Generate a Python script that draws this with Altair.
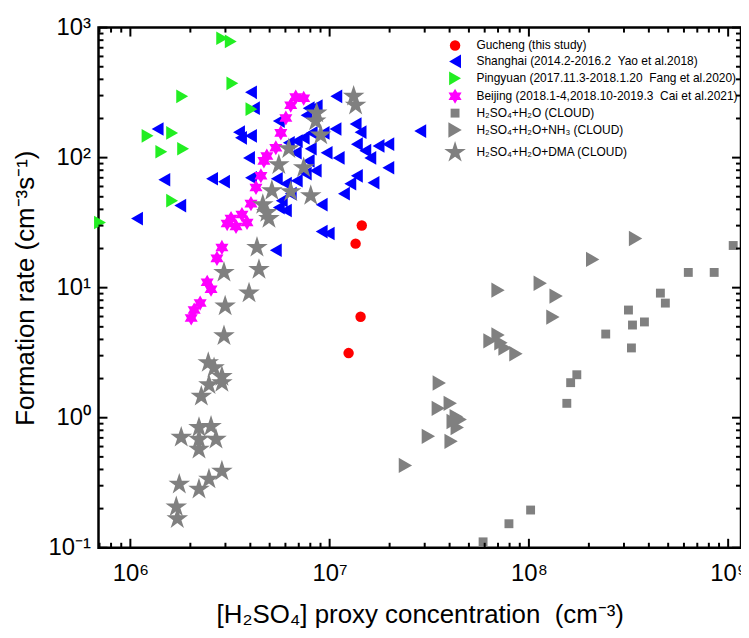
import altair as alt
import pandas as pd

# ---------------- data ----------------
gucheng_x = [1.45e7, 1.35e7, 1.43e7, 1.245e7]
gucheng_y = [30.1, 21.8, 5.98, 3.14]

shanghai_x = [1.08e6, 1.37e6, 1.48e6, 1.78e6, 2.57e6, 2.95e6, 3.51e6, 3.59e6, 4.03e6, 4.03e6,
              4.17e6, 3.94e6, 4.03e6, 5.56e6, 5.56e6, 6.03e6, 5.37e6, 6.03e6, 6.84e6, 7.59e6,
              6.84e6, 7.41e6, 8.61e6, 9.33e6, 1.07e7, 1.08e7, 1.35e7, 2.85e7, 9.66e6, 1.11e7,
              1.37e7, 1.51e7, 1.76e7, 1.97e7, 1.60e7, 1.97e7, 1.37e7, 1.27e7, 1.66e7, 1.18e7,
              9.12e6, 9.12e6, 9.89e6, 6.38e6, 6.76e6, 7.85e6, 8.51e6, 6.24e6, 8.04e6, 5.43e6,
              5.75e6, 7.85e6, 1.43e7, 7.66e6, 8.13e6]
shanghai_y = [34.0, 166, 67.6, 42.8, 68.8, 65.3, 157, 142, 147, 318,
              240, 99.5, 70.0, 191, 41.3, 39.2, 19.4, 63.0, 66.4, 75.2,
              134, 142, 249, 155, 166, 296, 181, 160, 109, 99.5,
              127, 113, 123, 127, 99.5, 83.6, 72.5, 63.0, 64.1, 52.8,
              43.5, 27.0, 26.1, 52.8, 109, 94.4, 79.3, 130, 117, 68.8,
              46.7, 240, 157, 212, 155]

pingyuan_x = [2.89e6, 3.19e6, 3.25e6, 1.82e6, 4.05e6, 1.22e6, 1.62e6, 1.43e6, 1.84e6, 1.62e6, 7.04e5]
pingyuan_y = [828, 782, 373, 296, 236, 147, 155, 111, 117, 46.7, 31.7]

beijing_x = [6.76e6, 7.41e6, 6.38e6, 6.03e6, 5.69e6, 5.37e6, 4.84e6, 4.68e6, 4.52e6, 4.27e6,
             4.03e6, 3.85e6, 3.39e6, 3.06e6, 2.88e6, 2.72e6, 2.43e6, 2.54e6, 2.24e6, 2.09e6,
             2.02e6, 3.20e6, 3.63e6]
beijing_y = [292, 286, 253, 202, 155, 119, 103, 94.4, 72.5, 59.0,
             44.3, 31.7, 29.5, 31.1, 20.4, 16.8, 11.0, 9.74, 7.61, 6.73,
             5.84, 34.0, 36.5]

h2o_x = [1.06e9, 6.31e8, 8.51e8, 4.57e8, 4.84e8, 3.16e8, 3.31e8, 3.80e8, 2.43e8, 3.27e8,
         1.74e8, 1.62e8, 1.55e8, 1.02e8, 7.94e7, 5.89e7]
h2o_y = [21.1, 13.1, 13.1, 9.08, 7.61, 6.73, 5.16, 5.45, 4.40, 3.44,
         2.14, 1.86, 1.29, 0.195, 0.153, 0.111]

nh3_x = [3.43e8, 2.09e8, 1.14e8, 7.00e7, 1.37e8, 1.32e8, 6.38e7, 7.00e7, 7.24e7, 7.59e7,
         8.61e7, 3.55e7, 4.03e7, 3.51e7, 4.32e7, 4.52e7, 4.17e7, 4.37e7, 3.13e7, 4.07e7,
         2.40e7]
nh3_y = [23.9, 16.5, 10.8, 9.57, 8.61, 5.94, 3.90, 4.33, 3.77, 3.44,
         3.10, 1.85, 1.29, 1.18, 1.02, 0.970, 0.935, 0.841, 0.719, 0.658,
         0.43]

dma_x = [1.32e7, 1.35e7, 8.61e6, 8.51e6, 9.02e6, 6.24e6, 5.56e6, 7.41e6, 5.13e6, 6.38e6,
         8.04e6, 4.62e6, 4.84e6, 4.96e6, 4.32e6, 4.42e6, 2.95e6, 3.94e6, 2.99e6, 2.95e6,
         2.46e6, 2.63e6, 2.88e6, 2.88e6, 2.48e6, 2.27e6, 2.54e6, 2.21e6, 1.80e6, 2.21e6,
         2.69e6, 2.21e6, 2.88e6, 2.48e6, 2.21e6, 1.76e6, 1.70e6, 1.72e6]
dma_y = [296, 253, 220, 191, 149, 117, 88.1, 83.6, 55.7, 54.7,
         51.0, 43.5, 37.8, 34.0, 20.4, 13.8, 13.1, 9.08, 7.22, 4.26,
         2.65, 2.42, 2.07, 1.86, 1.79, 1.46, 0.857, 0.841, 0.706, 0.682,
         0.682, 0.571, 0.388, 0.337, 0.282, 0.308, 0.206, 0.167]

NB = "\u00a0"
names = ["Gucheng (this study)",
         "Shanghai (2014.2-2016.2 " + NB + "Yao et al.2018)",
         "Pingyuan (2017.11.3-2018.1.20 " + NB + "Fang et al.2020)",
         "Beijing (2018.1-4,2018.10-2019.3 " + NB + "Cai et al.2021)",
         "H\u2082SO\u2084+H\u2082O (CLOUD)",
         "H\u2082SO\u2084+H\u2082O+NH\u2083 (CLOUD)",
         "H\u2082SO\u2084+H\u2082O+DMA (CLOUD)"]
colors = ["#FF0000", "#0000FF", "#22EE22", "#FF00FF", "#808080", "#808080", "#808080"]
hexagram = ("M0,-1L0.289,-0.5L0.866,-0.5L0.577,0L0.866,0.5L0.289,0.5L0,1L-0.289,0.5"
            "L-0.866,0.5L-0.577,0L-0.866,-0.5L-0.289,-0.5Z")
pentagram = ("M0,-1L0.225,-0.309L0.951,-0.309L0.363,0.118L0.588,0.809L0,0.382"
             "L-0.588,0.809L-0.363,0.118L-0.951,-0.309L-0.225,-0.309Z")
shapes = ["circle", "triangle-left", "triangle-right", hexagram, "square", "triangle-right", pentagram]
sizes = [110, 190, 190, 230, 80, 240, 520]

x_major = [1e6, 1e7, 1e8, 1e9]
x_minor = [7e5, 8e5, 9e5,
           2e6, 3e6, 4e6, 5e6, 6e6, 7e6, 8e6, 9e6,
           2e7, 3e7, 4e7, 5e7, 6e7, 7e7, 8e7, 9e7,
           2e8, 3e8, 4e8, 5e8, 6e8, 7e8, 8e8, 9e8]
y_major = [0.1, 1, 10, 100, 1000]
y_minor = [0.2, 0.3, 0.4, 0.5, 0.6, 0.7, 0.8, 0.9,
           2, 3, 4, 5, 6, 7, 8, 9,
           20, 30, 40, 50, 60, 70, 80, 90,
           200, 300, 400, 500, 600, 700, 800, 900]

# draw order: Shanghai, Pingyuan, Beijing, DMA, NH3, H2O, Gucheng
order = [(1, shanghai_x, shanghai_y), (2, pingyuan_x, pingyuan_y), (3, beijing_x, beijing_y),
         (6, dma_x, dma_y), (5, nh3_x, nh3_y), (4, h2o_x, h2o_y), (0, gucheng_x, gucheng_y)]
rows = []
for idx, xs, ys in order:
    for xv, yv in zip(xs, ys):
        rows.append({"x": xv, "y": yv, "series": names[idx]})
df = pd.DataFrame(rows)

W, H = 646, 523
FONT = "Liberation Sans"
xscale = alt.Scale(type="log", domain=[6.92e5, 1.16e9], nice=False)
yscale = alt.Scale(type="log", domain=[0.1, 1000], nice=False)

x_label_expr = ("datum.value < 5e6 ? '10\u2076' : datum.value < 5e7 ? '10\u2077' : "
                "datum.value < 5e8 ? '10\u2078' : '10\u2079'")
y_label_expr = ("datum.value < 0.5 ? '10\u207b\u00b9' : datum.value < 5 ? '10\u2070' : "
                "datum.value < 50 ? '10\u00b9' : datum.value < 500 ? '10\u00b2' : '10\u00b3'")

xaxis = alt.Axis(values=x_major, labelExpr=x_label_expr, ticks=False, domain=False,
                 grid=False, labelFont=FONT, labelFontSize=24, labelColor="black",
                 labelPadding=14,
                 title="[H\u2082SO\u2084] proxy concentration " + NB + "(cm\u207b\u00b3)",
                 titleFont=FONT, titleFontSize=26, titleFontWeight="normal",
                 titleColor="black", titlePadding=16)
yaxis = alt.Axis(values=y_major, labelExpr=y_label_expr, ticks=False, domain=False,
                 grid=False, labelFont=FONT, labelFontSize=24, labelColor="black",
                 labelPadding=8,
                 title="Formation rate (cm\u207b\u00b3s\u207b\u00b9)",
                 titleFont=FONT, titleFontSize=26, titleFontWeight="normal",
                 titleColor="black", titlePadding=10)

points = alt.Chart(df).mark_point(filled=True, opacity=1, strokeWidth=0).encode(
    x=alt.X("x:Q", scale=xscale, axis=xaxis),
    y=alt.Y("y:Q", scale=yscale, axis=yaxis),
    color=alt.Color("series:N", scale=alt.Scale(domain=names, range=colors),
                    legend=alt.Legend(orient="none", legendX=347, legendY=12, title=None,
                                      labelFont=FONT, labelFontSize=12, labelColor="black",
                                      labelLimit=0, padding=0, rowPadding=3, labelOffset=10,
                                      symbolStrokeWidth=0, symbolOpacity=1)),
    shape=alt.Shape("series:N", scale=alt.Scale(domain=names, range=shapes)),
    size=alt.Size("series:O", scale=alt.Scale(type="ordinal", domain=names, range=sizes)),
)

tick_major_len, tick_minor_len = 9, 5


def xticks(vals, length, top):
    d = pd.DataFrame({"x": vals})
    if top:
        yy, yy2 = alt.value(0), alt.value(length)
    else:
        yy, yy2 = alt.value(H), alt.value(H - length)
    return alt.Chart(d).mark_rule(color="black", strokeWidth=2).encode(
        x=alt.X("x:Q", scale=xscale, axis=xaxis), y=yy, y2=yy2)


def yticks(vals, length, right):
    d = pd.DataFrame({"y": vals})
    if right:
        xx, xx2 = alt.value(W), alt.value(W - length)
    else:
        xx, xx2 = alt.value(0), alt.value(length)
    return alt.Chart(d).mark_rule(color="black", strokeWidth=2).encode(
        y=alt.Y("y:Q", scale=yscale, axis=yaxis), x=xx, x2=xx2)


tick_layers = [
    xticks(x_major, tick_major_len, False), xticks(x_minor, tick_minor_len, False),
    xticks(x_major, tick_major_len, True), xticks(x_minor, tick_minor_len, True),
    yticks(y_major, tick_major_len, False), yticks(y_minor, tick_minor_len, False),
    yticks(y_major, tick_major_len, True), yticks(y_minor, tick_minor_len, True),
]

chart = alt.layer(points, *tick_layers).properties(
    width=W, height=H,
    background="white",
    autosize=alt.AutoSizeParams(type="none"),
    padding={"left": 91, "top": 18, "right": 0, "bottom": 81},
).configure_view(stroke="black", strokeWidth=2.5)

chart.save("out.html", embed_options={"renderer": "svg", "actions": False})
